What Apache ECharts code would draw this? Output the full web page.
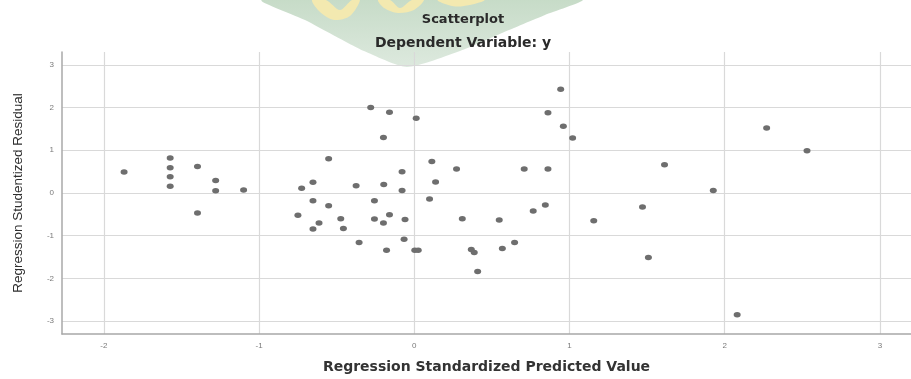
<!DOCTYPE html>
<html>
<head>
<meta charset="utf-8">
<script src="https://cdn.jsdelivr.net/npm/echarts@6/dist/echarts.min.js"></script>
<style>
  html, body { margin: 0; padding: 0; background: #fff; }
  #chart { width: 911px; height: 379px; }
</style>
</head>
<body>
<div id="chart"></div>
<script>
const predicted = [
  -1.87, -1.573, -1.573, -1.573, -1.573, -1.397, -1.397, -1.28, -1.28, -1.10,
  -0.726, -0.653, -0.653, -0.75, -0.653, -0.614, -0.552, -0.552, -0.474, -0.457,
  -0.375, -0.356, -0.281, -0.257, -0.257, -0.199, -0.199, -0.197, -0.179, -0.16,
  -0.16, -0.079, -0.079, -0.066, -0.06, 0.003, 0.025, 0.012, 0.098, 0.113,
  0.137, 0.272, 0.309, 0.367, 0.386, 0.408, 0.547, 0.567, 0.646, 0.708,
  0.766, 0.844, 0.861, 0.861, 0.943, 0.96, 1.02, 1.156, 1.612, 1.926,
  1.47, 1.508, 2.27, 2.53, 2.08
];
const residual = [
  0.49, 0.82, 0.59, 0.38, 0.16, 0.62, -0.47, 0.29, 0.05, 0.07,
  0.11, 0.25, -0.18, -0.52, -0.84, -0.70, 0.80, -0.30, -0.60, -0.83,
  0.17, -1.16, 2.00, -0.18, -0.61, -0.70, 1.30, 0.20, -1.34, 1.89,
  -0.51, 0.50, 0.06, -1.08, -0.62, -1.34, -1.34, 1.75, -0.14, 0.74,
  0.26, 0.56, -0.60, -1.32, -1.39, -1.84, -0.63, -1.30, -1.16, 0.56,
  -0.42, -0.28, 0.56, 1.88, 2.43, 1.56, 1.29, -0.65, 0.66, 0.06,
  -0.33, -1.51, 1.52, 0.99, -2.85
];

const titleText = "Scatterplot";
const subTitleText = "Dependent Variable: y";
const xName = "Regression Standardized Predicted Value";
const yName = "Regression Studentized Residual";

const gridColor = "#d9d9d9";
const axisColor = "#a8a8a8";
const labelColor = "#7a7a7a";
const dotColor = "#6e6e6e";
const yellow = "#f3e9b0";

const points = predicted.map((x, i) => [x, residual[i]]);

const chart = echarts.init(document.getElementById("chart"), null, { renderer: "canvas" });

// faded logo watermark behind the titles
const watermark = [
  {
    type: "polygon",
    z: -1,
    shape: {
      points: [[262, 0], [305, 20], [333, 35], [364, 51], [407, 67], [460, 51], [502, 33], [545, 15], [582, 0]],
      smooth: 0.2,
    },
    style: {
      fill: {
        type: "linear", x: 0, y: 0, x2: 0, y2: 1,
        colorStops: [{ offset: 0, color: "#c6dbc7" }, { offset: 1, color: "#dde9de" }],
      },
    },
  },
  {
    type: "polygon",
    z: -1,
    shape: { points: [[312, 0], [326, 0], [340, 10], [352, 0], [360, 0], [350, 16], [334, 20], [320, 12]], smooth: 0.3 },
    style: { fill: yellow },
  },
  {
    type: "polygon",
    z: -1,
    shape: { points: [[378, 0], [390, 0], [400, 8], [412, 0], [424, 0], [414, 10], [398, 13], [384, 8]], smooth: 0.3 },
    style: { fill: yellow },
  },
  {
    type: "polygon",
    z: -1,
    shape: { points: [[438, 0], [484, 0], [470, 5], [452, 6]], smooth: 0.4 },
    style: { fill: yellow },
  },
];

const option = {
  backgroundColor: "#fff",
  animation: false,
  graphic: watermark,
  title: [
    {
      text: titleText,
      left: 458,
      top: 8,
      textAlign: "center",
      textStyle: { fontFamily: "DejaVu Sans", fontSize: 13, fontWeight: "bold", color: "#2a2a2a" },
    },
    {
      text: subTitleText,
      left: 458,
      top: 31,
      textAlign: "center",
      textStyle: { fontFamily: "DejaVu Sans", fontSize: 14, fontWeight: "bold", color: "#2a2a2a" },
    },
  ],
  grid: { left: 62, right: 0, top: 52, bottom: 41 },
  xAxis: {
    type: "value",
    min: -2.27,
    max: 3.2,
    splitNumber: 5,
    name: xName,
    nameLocation: "middle",
    nameGap: 26,
    nameTextStyle: { fontFamily: "DejaVu Sans", fontSize: 14, fontWeight: "bold", color: "#333" },
    axisLine: { show: true, onZero: false, lineStyle: { color: axisColor, width: 1.5 } },
    axisTick: { show: false },
    axisLabel: {
      showMinLabel: false,
      showMaxLabel: false,
      margin: 8,
      fontSize: 8,
      color: labelColor,
      fontFamily: "Liberation Sans",
    },
    splitLine: { show: true, showMinLine: false, showMaxLine: false, lineStyle: { color: gridColor, width: 1.2 } },
  },
  yAxis: {
    type: "value",
    min: -3.3,
    max: 3.3,
    splitNumber: 6,
    name: yName,
    nameLocation: "middle",
    nameGap: 37,
    nameTextStyle: { fontFamily: "Liberation Sans", fontSize: 13.5, color: "#2e2e2e" },
    axisLine: { show: true, onZero: false, lineStyle: { color: axisColor, width: 1.5 } },
    axisTick: { show: false },
    axisLabel: {
      showMinLabel: false,
      showMaxLabel: false,
      margin: 8,
      fontSize: 8,
      color: labelColor,
      fontFamily: "Liberation Sans",
    },
    splitLine: { show: true, showMinLine: false, showMaxLine: false, lineStyle: { color: gridColor, width: 1.2 } },
  },
  series: [
    {
      type: "scatter",
      data: points,
      symbol: "circle",
      symbolSize: [7, 5.5],
      itemStyle: { color: dotColor, opacity: 1 },
      z: 3,
    },
  ],
};

chart.setOption(option);
</script>
</body>
</html>
